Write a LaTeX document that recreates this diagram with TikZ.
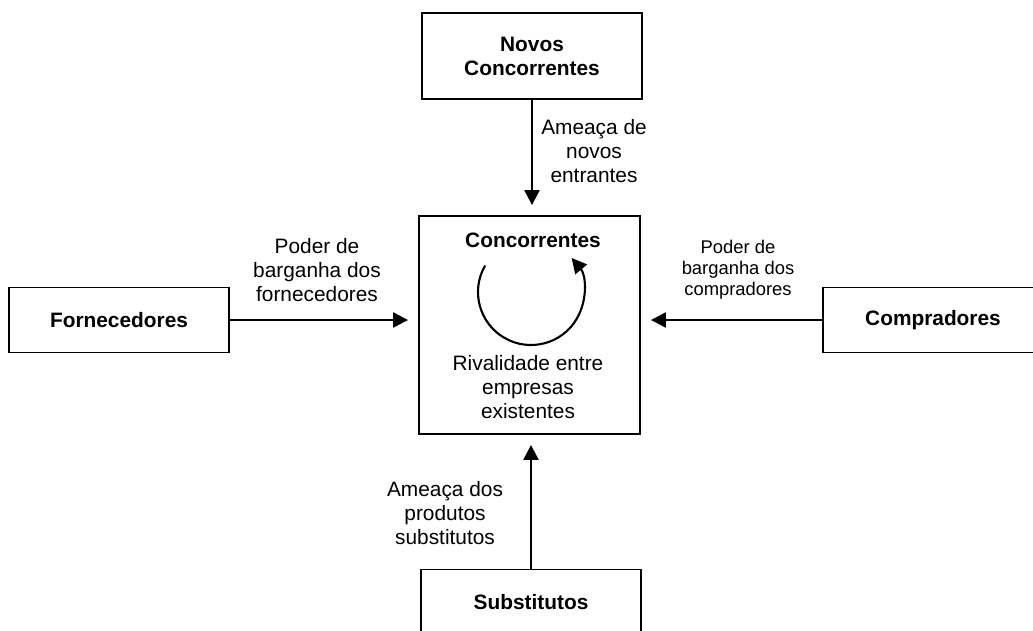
\documentclass[tikz,border=0pt]{standalone}
\usepackage{fontspec}
\setmainfont{Liberation Sans}
\usetikzlibrary{arrows.meta}

\begin{document}
\begin{tikzpicture}[x=0.03cm, y=0.03cm,
    texto/.style={font=\fontsize{17.8}{20.5}\selectfont, align=center, inner sep=0pt},
    box/.style={draw, line width=1.6pt, minimum width=6.6cm, inner sep=0pt,
      font=\fontsize{17.8}{20.5}\selectfont\bfseries, align=center},
    seta/.style={-{Triangle[length=0.45cm, width=0.45cm]}, line width=2pt, shorten >=0.3cm}]
  \useasboundingbox (0,0) rectangle (1033,-630);
  % caixas
  \node[box, minimum height=2.58cm] (novos) at (532,-56) {Novos\\Concorrentes};
  \node[box, minimum width=6.63cm, minimum height=6.54cm] (conc) at (529.5,-325) {};
  \node[box, minimum height=1.95cm] (forn) at (119,-320) {Fornecedores};
  \node[box, minimum height=1.95cm] (comp) at (933,-320) {Compradores};
  \node[box, minimum height=1.95cm] (subs) at (531,-602) {Substitutos};
  % dentro da caixa central
  \node[texto, font=\fontsize{17.8}{20.5}\selectfont\bfseries] (titulo) at (533,-240) {Concorrentes};
  \node[texto] (rival) at (528,-387) {Rivalidade entre\\empresas\\existentes};
  \coordinate (giro) at (531,-292);
  \draw[-{Triangle[length=0.45cm, width=0.45cm]}, line width=1.8pt]
    ([shift={(150:1.59cm)}]giro) arc[start angle=150, end angle=400, radius=1.59cm];
  % setas
  \draw[seta] (novos.south) -- (novos.south |- conc.north);
  \draw[seta] (subs.north) -- (subs.north |- conc.south);
  \draw[seta] (forn.east) -- (forn.east -| conc.west);
  \draw[seta] (comp.west) -- (comp.west -| conc.east);
  % legendas
  \node[texto] (entrantes) at (594,-151) {Ameaça de\\novos\\entrantes};
  \node[texto] (fornec) at (317,-270) {Poder de\\barganha dos\\fornecedores};
  \node[texto, font=\fontsize{15.7}{18}\selectfont] (compr) at (738,-270) {Poder de\\barganha dos\\compradores};
  \node[texto] (subst) at (445,-513) {Ameaça dos\\produtos\\substitutos};
\end{tikzpicture}
\end{document}
